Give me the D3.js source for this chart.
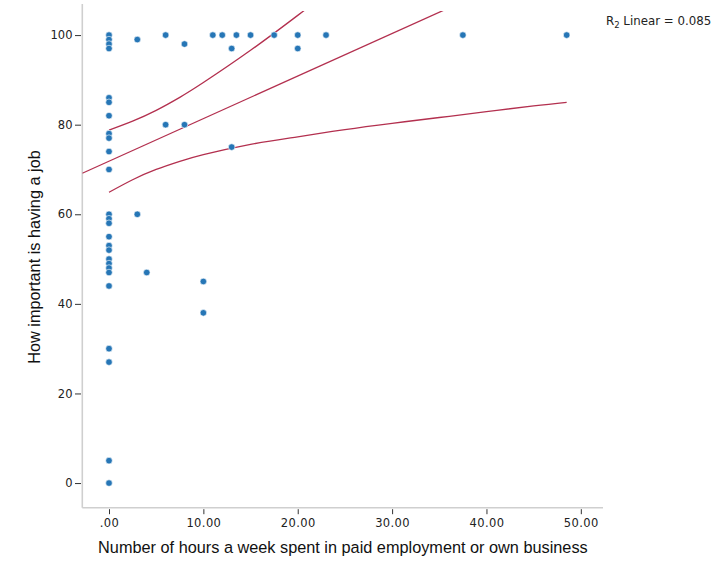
<!DOCTYPE html>
<html>
<head>
<meta charset="utf-8">
<script src="https://cdn.jsdelivr.net/npm/d3@7"></script>
<style>
  html, body { margin: 0; padding: 0; background: #fff; }
  svg { display: block; }
</style>
</head>
<body>
<svg id="chart" width="711" height="567"></svg>
<script>
// Hours per week in paid work vs. rated importance of having a job
const hours = [
  0, 0, 0, 0, 0, 0, 0, 0, 0, 0, 0, 0, 0,
  0, 0, 0, 0, 0, 0, 0, 0, 0, 0, 0, 0, 0,
  3, 3, 4, 6, 6, 8, 8, 10, 10, 11, 12, 13, 13,
  13.5, 15, 17.5, 20, 20, 23, 37.5, 48.5
];
const importance = [
  100, 99, 98, 97, 86, 85, 82, 78, 77, 74, 70, 60, 59,
  58, 55, 53, 52, 50, 49, 48, 47, 44, 30, 27, 5, 0,
  99, 60, 47, 100, 80, 98, 80, 45, 38, 100, 100, 97, 75,
  100, 100, 100, 100, 97, 100, 100, 100
];

// Linear fit and 95% confidence band of the mean
const fitIntercept = 71.85;
const fitSlope = 0.95;
const bandHours = [0, 2.5, 5, 7.5, 10, 15, 20, 25, 30, 35, 40, 45, 48.5];
const bandLower = [64.9, 67.7, 70.0, 71.8, 73.3, 75.6, 77.3, 78.9, 80.3, 81.6, 82.9, 84.2, 85.0];
const bandUpper = [78.8, 80.8, 83.2, 86.1, 89.4, 96.6, 104.4, 112.4, 120.4, 128.6, 136.8, 145.0, 150.8];

const xTicks = [0, 10, 20, 30, 40, 50];
const xTickLabels = [".00", "10.00", "20.00", "30.00", "40.00", "50.00"];
const yTicks = [0, 20, 40, 60, 80, 100];
const yTickLabels = ["0", "20", "40", "60", "80", "100"];

const rSquared = 0.085;
const xTitle = "Number of hours a week spent in paid employment or own business";
const yTitle = "How important is having a job";

const svg = d3.select("#chart");
const plotLeft = 82.3, plotRight = 603, plotTop = 10.9, plotBottom = 507.7;

const x = d3.scaleLinear().domain([-2.83, 52.35]).range([plotLeft, plotRight]);
const y = d3.scaleLinear().domain([-5.5, 105.4]).range([plotBottom, plotTop]);

const tickFont = "'DejaVu Sans', Verdana, sans-serif";
const titleFont = "'Liberation Sans', Arial, Helvetica, sans-serif";

// clip region for the fitted lines
svg.append("defs").append("clipPath").attr("id", "plotClip")
  .append("rect")
  .attr("x", plotLeft).attr("y", plotTop)
  .attr("width", plotRight - plotLeft).attr("height", plotBottom - plotTop);

// axis lines
svg.append("line")
  .attr("x1", plotLeft).attr("x2", plotLeft).attr("y1", 4).attr("y2", plotBottom)
  .attr("stroke", "#cfcfcf").attr("stroke-width", 1.6);
svg.append("line")
  .attr("x1", plotLeft).attr("x2", plotRight).attr("y1", plotBottom).attr("y2", plotBottom)
  .attr("stroke", "#cfcfcf").attr("stroke-width", 1.6);

// y axis ticks and labels
const yAxis = d3.axisLeft(y)
  .tickValues(yTicks)
  .tickFormat((d, i) => yTickLabels[i])
  .tickSize(6)
  .tickPadding(2.5);
const gy = svg.append("g").attr("transform", `translate(${plotLeft - 1.3},0)`).call(yAxis);
gy.select(".domain").remove();
gy.selectAll(".tick line").attr("stroke", "#333").attr("stroke-width", 1);
gy.selectAll(".tick text")
  .attr("fill", "#222")
  .style("font-family", tickFont)
  .style("font-size", "11.5px");

// x axis ticks and labels
const xAxis = d3.axisBottom(x)
  .tickValues(xTicks)
  .tickFormat((d, i) => xTickLabels[i])
  .tickSize(5)
  .tickPadding(5);
const gx = svg.append("g").attr("transform", `translate(0,${plotBottom + 1.5})`).call(xAxis);
gx.select(".domain").remove();
gx.selectAll(".tick line").attr("stroke", "#333").attr("stroke-width", 1);
gx.selectAll(".tick text")
  .attr("fill", "#222")
  .style("font-family", tickFont)
  .style("font-size", "11.5px")
  .style("letter-spacing", "0.4px");

// axis titles
svg.append("text")
  .attr("x", (x(0) + x(50)) / 2 - 2)
  .attr("y", 553)
  .attr("text-anchor", "middle")
  .style("font-family", titleFont)
  .style("font-size", "16.3px")
  .attr("fill", "#111")
  .text(xTitle);

svg.append("text")
  .attr("transform", "translate(40,257) rotate(-90)")
  .attr("text-anchor", "middle")
  .style("font-family", titleFont)
  .style("font-size", "16.3px")
  .attr("fill", "#111")
  .text(yTitle);

// fitted line and confidence band
const lineColor = "#b3304f";
const fitGroup = svg.append("g").attr("clip-path", "url(#plotClip)");

const xDom = x.domain();
fitGroup.append("line")
  .attr("x1", x(xDom[0])).attr("y1", y(fitIntercept + fitSlope * xDom[0]))
  .attr("x2", x(xDom[1])).attr("y2", y(fitIntercept + fitSlope * xDom[1]))
  .attr("stroke", lineColor).attr("stroke-width", 1.3);

const bandLine = d3.line()
  .x(d => x(d[0]))
  .y(d => y(d[1]))
  .curve(d3.curveNatural);

[bandLower, bandUpper].forEach(vals => {
  fitGroup.append("path")
    .datum(bandHours.map((h, i) => [h, vals[i]]))
    .attr("d", bandLine)
    .attr("fill", "none")
    .attr("stroke", lineColor)
    .attr("stroke-width", 1.3);
});

// observations
svg.append("g")
  .selectAll("circle")
  .data(hours.map((h, i) => ({ h, v: importance[i] })))
  .join("circle")
  .attr("cx", d => x(d.h))
  .attr("cy", d => y(d.v))
  .attr("r", 3.3)
  .attr("fill", "#2676b6")
  .attr("stroke", "#ffffff")
  .attr("stroke-width", 0.6);

// fit summary
const legend = svg.append("text")
  .attr("x", 606)
  .attr("y", 25)
  .style("font-family", tickFont)
  .style("font-size", "11.8px")
  .attr("fill", "#222");
legend.append("tspan").text("R");
legend.append("tspan").attr("dy", 3).style("font-size", "8.5px").text("2");
legend.append("tspan").attr("dy", -3).text(" Linear = " + rSquared.toFixed(3));
</script>
</body>
</html>
